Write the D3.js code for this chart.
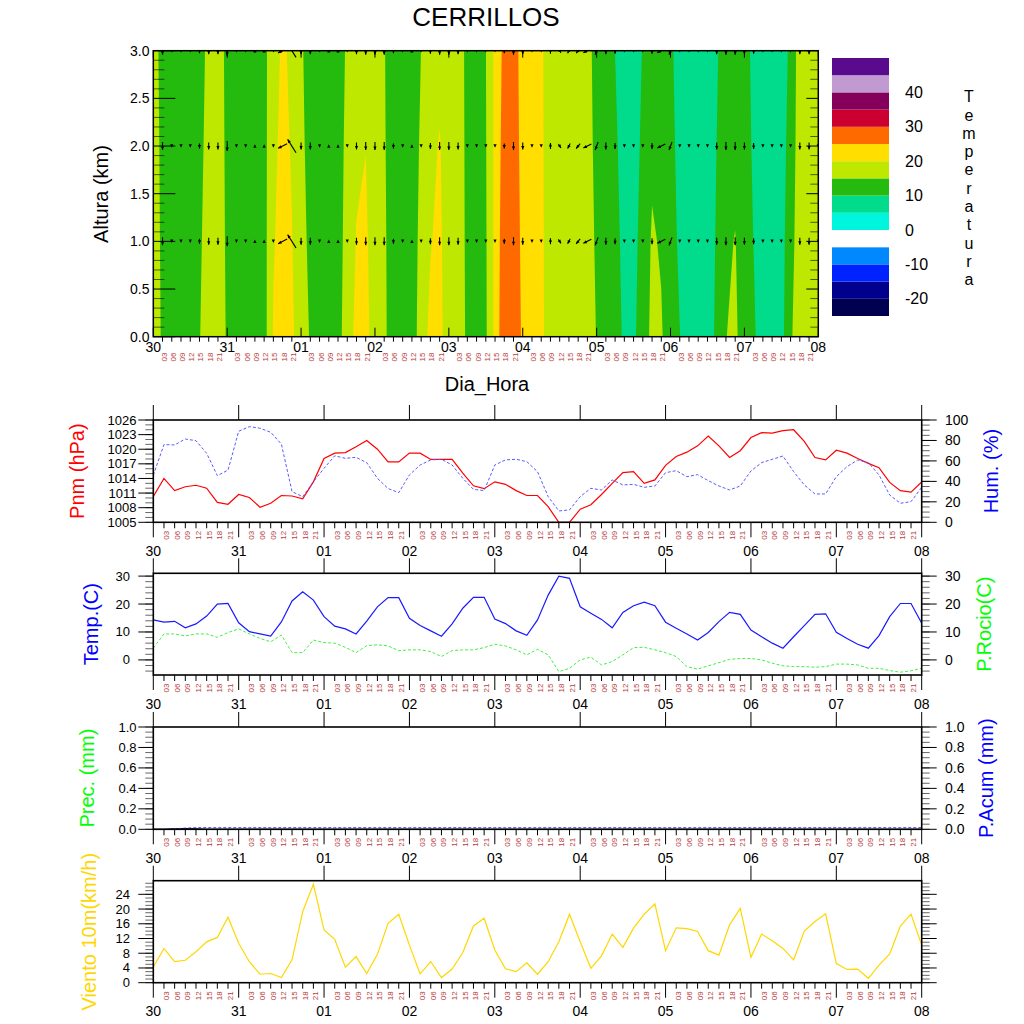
<!DOCTYPE html>
<html lang="es">
<head>
<meta charset="UTF-8">
<title>CERRILLOS - meteograma</title>
<script src="https://d3js.org/d3.v7.min.js"></script>
<style>
  body { margin: 0; background: #fff; }
  svg { display: block; font-family: "Liberation Sans", Arial, Helvetica, sans-serif; }
</style>
</head>
<body>
<script>
// ---------------- data ----------------
const days = ["30", "31", "01", "02", "03", "04", "05", "06", "07", "08"];
const hourLabels = ["03", "06", "09", "12", "15", "18", "21"];
const hoursAll = d3.range(0, 217, 3);   // 3-hourly steps, 30 00h .. 08 00h

// temperature cross-section (C), one row per height
const heightsKm = [0, 1, 2, 3];
const temp0km = [19, 14, 12.5, 12.5, 12.5, 14.7, 18.5, 17.5, 14.5, 12.5,
  12.5, 12.5, 12.9, 20.5, 22.5, 20.8, 17.5, 14.6, 12.5, 12.5,
  13.3, 17.5, 21.4, 22, 16.9, 16, 12.3, 12.5, 12.4, 17.4,
  21.3, 21.5, 17, 17.5, 14.2, 12.5, 14.3, 21.3, 29.3, 28,
  24.3, 22.5, 21, 17.7, 17.5, 17.5, 17.5, 17.5, 14.8, 12.5,
  12.5, 9, 9.1, 12.5, 16.2, 15.5, 12.2, 10.1, 7.5, 7.5,
  7.5, 11, 14.9, 16, 12.3, 10.7, 7.5, 7.5, 8.2, 14.5,
  17.1, 17.5, 17.5];
const temp1km = [18.4, 13.7, 12.5, 12.5, 12.5, 14.0, 17.9, 17.5, 14.2, 12.5,
  12.5, 12.5, 13.2, 19.6, 21.9, 20.2, 17.0, 13.7, 12.5, 12.5,
  13.0, 16.9, 20.3, 21, 17, 15.8, 12.3, 12.5, 12.4, 16.6,
  19.7, 21.2, 16.5, 17.5, 14.0, 12.5, 14.5, 21.3, 28.4, 27.8,
  23.8, 22.5, 21, 17.4, 17.5, 17.5, 17.5, 17.3, 14.2, 12.5,
  11.6, 8.5, 8.6, 11.8, 15.6, 14.5, 11.8, 9.2, 7.5, 7.5,
  7.5, 10.5, 14.1, 15.2, 12.3, 9.9, 7.5, 7.5, 8.0, 13.4,
  17.3, 17.5, 17.5];
const temp2km = [17.8, 13.5, 12.5, 12.5, 12.5, 13.3, 17.2, 17.6, 13.9, 12.5,
  12.5, 12.5, 13.4, 18.8, 21.4, 19.6, 16.5, 12.7, 12.5, 12.5,
  12.8, 16.4, 19.0, 19.9, 17.3, 15.5, 12.3, 12.5, 12.4, 15.8,
  17.8, 20.55, 16.0, 17.6, 13.8, 12.5, 14.7, 21.2, 27.4, 27.7,
  23.2, 22.5, 21, 17.0, 17.5, 17.5, 17.5, 17.1, 13.5, 12.5,
  10.8, 8.0, 8.0, 11.0, 14.0, 13.5, 11.5, 8.4, 7.5, 7.5,
  7.5, 10.05, 13.3, 13.5, 12.4, 9.2, 7.5, 7.5, 7.7, 12.2,
  17.5, 17.5, 17.5];
const temp3km = [17.2, 13.2, 12.5, 12.5, 12.5, 12.6, 16.6, 17.6, 13.6, 12.5,
  12.5, 12.5, 13.7, 17.9, 20.8, 19.0, 16, 11.8, 12.5, 12.5,
  12.5, 15.8, 17.5, 17.5, 17.5, 15.3, 12.3, 12.5, 12.45, 15.05,
  17.5, 17.5, 17.5, 17.6, 13.6, 12.5, 14.9, 21.2, 26.5, 27.5,
  22.7, 22.5, 21, 16.7, 17.5, 17.5, 17.5, 16.9, 12.9, 12.5,
  9.95, 7.5, 7.5, 10.3, 12.5, 12.5, 11.1, 7.5, 7.5, 7.5,
  7.5, 9.5, 12.5, 12.5, 12.4, 8.4, 7.5, 7.5, 7.5, 11.1,
  17.7, 17.5, 17.5];

const tempLevels = [-20, -15, -10, -5, 0, 5, 10, 15, 20, 25, 30, 35, 40, 45];
const tempColors = ["#000050", "#00008c", "#0022ff", "#0088ff", "#ffffff", "#00f5de",
  "#00dc8c", "#24ba0e", "#bee800", "#ffde00", "#ff6a00", "#cc0030", "#84005a",
  "#c09ad0", "#5a0a8c"];

// wind vectors in the cross-section (same at each drawn level)
const windLevelsKm = [1, 2, 3];
const windU = [0, 0, 0, 0, 0, 0, 0, 0, 0, 0,
  0, 0, 0, 0, -4.5, -4.2, 0, 0, 0, 0,
  0, 0, 0, 0, 0, 0, 0, 0, 0, 0,
  0, 0, 0, 0, 0, 0, 0, 0, 0, 0,
  0, 0, 0, 0, 1.3, -1.3, -2, -4, -1.5, 0,
  0, 0, 0, 0, 0, -4, -1.5, 0, 0, 0,
  0, 0, 0, 0, 0, 0, 0, 0, 0, 0,
  0, 0, 0];
const windV = [0, -4, -0.6, -0.8, -0.8, -2.5, -3.5, -3.5, -5, -1,
  -1, 1, 1, -0.6, -2.3, 6.7, -3.5, -3.5, -0.8, 1,
  1, -0.8, -3.5, -4, -4, -4, -2.5, -0.8, 1, -0.8,
  -3, -4, -4, -3.5, -1.2, -1.2, -1.2, -1.2, -2.5, -4,
  -3.5, -0.8, -0.8, 3, -2, -2.5, -2.5, -2, -4, -3.5,
  -3, -0.8, -0.8, -0.8, -3, -2, -4, -1.2, -1.2, -1.2,
  -1.2, -3.5, -4, -4, -3.5, -3, -1.2, -1.2, -0.8, -0.8,
  -3.5, -3.5, -0.8];

// surface series
const pnm = [1010.3, 1014.0, 1011.5, 1012.3, 1012.6, 1012.0, 1009.1, 1008.7, 1010.7, 1010.1,
  1008.1, 1008.9, 1010.5, 1010.4, 1009.8, 1013.3, 1018.1, 1019.2, 1019.3, 1020.5,
  1021.8, 1020.0, 1017.4, 1017.4, 1019.2, 1019.2, 1017.9, 1017.9, 1017.9, 1015.1,
  1012.5, 1011.9, 1013.3, 1012.8, 1011.5, 1010.5, 1010.5, 1008.2, 1005.0, 1005.0,
  1007.7, 1008.6, 1010.7, 1013.0, 1015.2, 1015.4, 1013.0, 1013.7, 1016.7, 1018.5,
  1019.4, 1020.7, 1022.7, 1020.7, 1018.3, 1019.7, 1022.4, 1023.4, 1023.3, 1023.8,
  1024.0, 1021.6, 1018.3, 1017.8, 1019.8, 1019.2, 1018.1, 1017.1, 1016.2, 1013.2,
  1011.5, 1011.2, 1013.3];
const hum = [46, 76, 75.6, 81.4, 79.8, 67.4, 45.6, 51, 89, 93.5,
  92, 88, 76.5, 30, 25, 39.7, 52.8, 65, 62.5, 63.5,
  58.3, 43, 33, 29, 46.3, 56, 61, 61.6, 56, 43,
  32.2, 31, 56, 61, 61.6, 59.3, 49.5, 25.1, 11.1, 12.1,
  25.1, 33.2, 31.6, 41.4, 36.5, 37.1, 34.2, 35.5, 48.5, 50.5,
  44.6, 46.6, 40.7, 35.5, 31.6, 35.5, 50.2, 58.3, 61.6, 64.8,
  49.5, 36.5, 27.7, 27.7, 44.6, 54.4, 60.9, 58.3, 46.3, 26.7,
  18.6, 20.2, 34.2];
const tempSfc = [14.3, 13.5, 13.8, 11.5, 12.9, 15.7, 20.0, 20.2, 13.3, 10.1,
  9.3, 8.5, 13.6, 21.1, 24.4, 21.4, 15.5, 12.1, 11.1, 9.3,
  13.9, 19.0, 22.3, 22.3, 14.9, 12.3, 10.4, 8.5, 12.9, 18.5,
  22.4, 22.4, 14.6, 13.0, 10.4, 8.8, 14.3, 23.2, 30.0, 29.2,
  19.0, 16.7, 14.5, 11.5, 17.0, 19.4, 20.7, 19.4, 13.5, 11.3,
  9.3, 7.1, 9.8, 13.7, 17.0, 16.3, 10.7, 8.3, 6.0, 4.2,
  8.3, 12.3, 16.3, 16.5, 9.9, 7.7, 5.6, 4.2, 8.7, 15.5,
  20.2, 20.2, 13.1];
const dewPoint = [4.2, 9.3, 9.3, 8.6, 9.3, 9.3, 8.1, 9.8, 11.1, 9.3,
  7.7, 6.5, 8.9, 2.6, 2.6, 7.1, 6.2, 6.0, 4.5, 2.6,
  5.1, 5.4, 5.0, 3.3, 3.6, 3.6, 3.0, 1.2, 3.3, 3.6,
  3.6, 4.4, 5.6, 5.0, 3.6, 1.8, 3.8, 1.8, -4.2, -3.0,
  0.0, 1.0, -1.8, -0.6, 1.8, 4.4, 4.5, 3.6, 2.6, 1.2,
  -2.4, -3.3, -2.1, -1.0, 0.2, 0.5, 0.5, 0.0, -1.2, -2.1,
  -2.4, -2.4, -2.6, -2.4, -1.5, -1.5, -1.8, -3.0, -3.0, -3.8,
  -4.4, -3.9, -3.0];
const prec = [0, 0, 0.005, 0.007, 0.004, 0, 0, 0, 0, 0,
  0, 0, 0, 0, 0, 0, 0, 0, 0, 0,
  0, 0, 0, 0, 0, 0, 0, 0, 0, 0,
  0, 0, 0, 0, 0, 0, 0, 0, 0, 0,
  0, 0, 0, 0, 0, 0, 0, 0, 0, 0,
  0, 0, 0, 0, 0, 0, 0, 0, 0, 0,
  0, 0, 0, 0, 0, 0, 0, 0, 0, 0,
  0, 0, 0];
const precAcum = [0, 0, 0.005, 0.012, 0.016, 0.016, 0.016, 0.016, 0.016, 0.016,
  0.016, 0.016, 0.016, 0.016, 0.016, 0.016, 0.016, 0.016, 0.016, 0.016,
  0.016, 0.016, 0.016, 0.016, 0.016, 0.016, 0.016, 0.016, 0.016, 0.016,
  0.016, 0.016, 0.016, 0.016, 0.016, 0.016, 0.016, 0.016, 0.016, 0.016,
  0.016, 0.016, 0.016, 0.016, 0.016, 0.016, 0.016, 0.016, 0.016, 0.016,
  0.016, 0.016, 0.016, 0.016, 0.016, 0.016, 0.016, 0.016, 0.016, 0.016,
  0.016, 0.016, 0.016, 0.016, 0.016, 0.016, 0.016, 0.016, 0.016, 0.016,
  0.016, 0.016, 0.016];
const wind10m = [4.3, 9.3, 5.7, 6.1, 8.4, 11.1, 12.3, 17.8, 10.7, 5.7,
  2.3, 2.5, 1.4, 6.2, 19.3, 26.7, 14.3, 11.8, 4.2, 7.1,
  2.5, 7.7, 16.1, 18.6, 10.2, 2.4, 5.7, 1.4, 3.7, 8.2,
  15.4, 17.5, 8.9, 3.8, 3.0, 5.4, 2.3, 5.7, 11.1, 18.6,
  11.1, 3.9, 7.3, 13.2, 9.6, 14.8, 18.6, 21.4, 8.7, 14.9,
  14.7, 13.9, 8.7, 7.5, 15.7, 20.2, 6.9, 13.2, 11.4, 9.3,
  6.2, 14.0, 16.6, 18.7, 5.2, 3.6, 3.7, 1.2, 4.8, 7.8,
  15.4, 18.6, 10.2];

// ---------------- drawing ----------------
const hourColor = "#b83c3c";
const svg = d3.select("body").append("svg")
    .attr("width", 1024)
    .attr("height", 1024);

function tick(g, x1, y1, x2, y2, minor) {
    g.append("line")
        .attr("x1", x1).attr("y1", y1).attr("x2", x2).attr("y2", y2)
        .attr("stroke", "#000")
        .attr("stroke-opacity", minor ? 0.6 : 1)
        .attr("stroke-width", 1);
}

function vText(g, x, y, txt, size, color) {
    return g.append("text")
        .attr("transform", `translate(${x},${y}) rotate(-90)`)
        .attr("text-anchor", "middle")
        .attr("dominant-baseline", "central")
        .attr("font-size", size)
        .attr("fill", color || "#000")
        .text(txt);
}

function hText(g, x, y, txt, size, anchor, color) {
    return g.append("text")
        .attr("x", x).attr("y", y)
        .attr("text-anchor", anchor || "middle")
        .attr("dominant-baseline", "central")
        .attr("font-size", size)
        .attr("fill", color || "#000")
        .text(txt);
}

// day and hour labels under a time axis
function timeLabels(g, x, dayY, hourY, dx) {
    days.forEach((d, k) => hText(g, x(k * 24), dayY, d, 14));
    days.slice(0, -1).forEach((d, k) => {
        hourLabels.forEach((h, j) => {
            vText(g, x(k * 24 + (j + 1) * 3) + dx, hourY, h, 8, hourColor);
        });
    });
}

hText(svg, 486, 17, "CERRILLOS", 26);

// ---- top panel: temperature cross-section ----
const T = {x0: 153.3, x1: 818.3, y0: 50.7, y1: 336.7};
const xTop = d3.scaleLinear().domain([0, 216]).range([T.x0, T.x1]);
const yTop = d3.scaleLinear().domain([0, 3]).range([T.y1, T.y0]);

svg.append("clipPath").attr("id", "clip-top").append("rect")
    .attr("x", T.x0).attr("y", T.y0)
    .attr("width", T.x1 - T.x0).attr("height", T.y1 - T.y0);

const nx = hoursAll.length, ny = heightsKm.length;
const grid = [].concat(temp0km, temp1km, temp2km, temp3km);
const colToHour = d3.scaleLinear().domain([0, nx - 1]).range([hoursAll[0], hoursAll[nx - 1]]);
const rowToKm = d3.scaleLinear().domain([0, ny - 1]).range([heightsKm[0], heightsKm[ny - 1]]);
const toScreen = d3.geoTransform({
    point(x, y) {
        this.stream.point(xTop(colToHour(x - 0.5)), yTop(rowToKm(y - 0.5)));
    }
});
const bands = d3.contours().size([nx, ny])
    .thresholds([-100].concat(tempLevels))(grid);

const gTop = svg.append("g").attr("clip-path", "url(#clip-top)");
gTop.selectAll("path.band")
    .data(bands)
    .join("path")
    .attr("class", "band")
    .attr("d", d3.geoPath(toScreen))
    .attr("fill", (d, k) => tempColors[k])
    .attr("fill-rule", "evenodd");

// wind arrows
const arrows = [];
windLevelsKm.forEach(km => hoursAll.forEach((h, i) => {
    arrows.push({h: h, km: km, u: windU[i], v: windV[i]});
}));
gTop.selectAll("g.arrow")
    .data(arrows)
    .join("g")
    .attr("class", "arrow")
    .each(function(d) {
        const g = d3.select(this);
        const cx = xTop(d.h), cy = yTop(d.km);
        const dx = d.u * 2, dy = -d.v * 2;
        const len = Math.hypot(dx, dy);
        if (len === 0) return;
        const ux = dx / len, uy = dy / len;
        const head = 3.5;
        let tx = cx + dx / 2, ty = cy + dy / 2;
        if (len < head) {
            tx = cx + ux * head / 2;
            ty = cy + uy * head / 2;
        } else {
            g.append("line")
                .attr("x1", cx - dx / 2).attr("y1", cy - dy / 2)
                .attr("x2", tx).attr("y2", ty)
                .attr("stroke", "#000").attr("stroke-width", 1.1);
        }
        const bx = tx - ux * head, by = ty - uy * head;
        const px = -uy * 1.6, py = ux * 1.6;
        g.append("path")
            .attr("d", `M${tx},${ty}L${bx + px},${by + py}L${bx - px},${by - py}Z`)
            .attr("fill", "#000");
    });

svg.append("rect")
    .attr("x", T.x0).attr("y", T.y0)
    .attr("width", T.x1 - T.x0).attr("height", T.y1 - T.y0)
    .attr("fill", "none").attr("stroke", "#000").attr("stroke-width", 1.5);

const axTop = svg.append("g");
yTop.ticks(30).forEach(v => {
    const major = Math.abs(v * 2 - Math.round(v * 2)) < 1e-6;
    const y = yTop(v);
    tick(axTop, T.x0, y, T.x0 + (major ? 22 : 11), y, !major);
    tick(axTop, T.x1, y, T.x1 - (major ? 12 : 8), y, !major);
    if (major) hText(axTop, 149.5, y, d3.format(".1f")(v), 14, "end");
});
hoursAll.forEach(h => {
    const x = xTop(h);
    if (h % 24 === 0) {
        tick(axTop, x, T.y1, x, T.y1 - 9);
        tick(axTop, x, T.y0, x, T.y0 + 7);
    } else {
        tick(axTop, x, T.y1, x, T.y1 + 5);
    }
});
timeLabels(axTop, xTop, 346.7, 357, 1.5);
vText(svg, 101, 194, "Altura (km)", 20);
hText(svg, 487, 384, "Dia_Hora", 20);

// colorbar
const cb = svg.append("g");
const yCb = d3.scaleLinear().domain([0, tempColors.length]).range([316, 58]);
cb.selectAll("rect")
    .data(tempColors)
    .join("rect")
    .attr("x", 832).attr("width", 57)
    .attr("y", (c, k) => yCb(k + 1))
    .attr("height", (c, k) => yCb(k) - yCb(k + 1))
    .attr("fill", c => c);
tempLevels.forEach((lv, k) => {
    if (lv % 10 === 0) hText(cb, 905, yCb(k + 1), String(lv), 16, "start");
});
"Temperatura".split("").forEach((ch, k) => hText(cb, 969, 96.7 + k * 18.3, ch, 16));

// ---- lower panels ----
const BX0 = 153.3, BX1 = 921.7;
const xB = d3.scaleLinear().domain([0, 216]).range([BX0, BX1]);

const panelDefs = [
    {y0: 420, y1: 522.3,
     left: {domain: [1005, 1026], major: 3, minor: 1, fmt: d3.format("d"), end: 136.5},
     right: {domain: [0, 100], major: 20, minor: 5, fmt: d3.format("d")},
     leftTitle: {text: "Pnm (hPa)", color: "#ff0000", x: 77},
     rightTitle: {text: "Hum. (%)", color: "#0000ff", x: 991},
     series: [
        {data: pnm, axis: "left", color: "#ff0000", width: 1.2},
        {data: hum, axis: "right", color: "#5a5aff", width: 1, dash: "3,2"}]},
    {y0: 573.3, y1: 675,
     left: {domain: [-5.4, 31], major: 10, minor: 2, fmt: d3.format("d"), end: 130},
     right: {domain: [-5.4, 31], major: 10, minor: 2, fmt: d3.format("d")},
     leftTitle: {text: "Temp.(C)", color: "#0000ff", x: 91},
     rightTitle: {text: "P.Rocio(C)", color: "#00ff00", x: 984},
     series: [
        {data: tempSfc, axis: "left", color: "#1a1aff", width: 1.2},
        {data: dewPoint, axis: "right", color: "#44ee44", width: 1, dash: "3,2"}]},
    {y0: 727, y1: 829.3,
     left: {domain: [0, 1], major: 0.2, minor: 0.05, fmt: d3.format(".1f"), end: 136.5},
     right: {domain: [0, 1], major: 0.2, minor: 0.05, fmt: d3.format(".1f")},
     leftTitle: {text: "Prec. (mm)", color: "#00ff00", x: 87},
     rightTitle: {text: "P.Acum (mm)", color: "#0000ff", x: 986},
     series: [
        {data: prec, axis: "left", color: "#000", width: 1.2},
        {data: precAcum, axis: "right", color: "#4a4aff", width: 1, dash: "3,2"}]},
    {y0: 880.7, y1: 982.7,
     left: {domain: [0, 27.7], major: 4, minor: 1, fmt: d3.format("d"), end: 130},
     right: {domain: [0, 27.7], major: 4, minor: 1, fmt: null},
     leftTitle: {text: "Viento 10m(km/h)", color: "#ffd700", x: 89},
     rightTitle: null,
     series: [
        {data: wind10m, axis: "left", color: "#ffd700", width: 1.2}]}
];

function tickValues(domain, step) {
    const eps = step * 1e-6;
    return d3.range(Math.ceil(domain[0] / step - 1e-9) * step, domain[1] + eps, step);
}

panelDefs.forEach((p, n) => {
    const g = svg.append("g");
    const yL = d3.scaleLinear().domain(p.left.domain).range([p.y1, p.y0]);
    const yR = d3.scaleLinear().domain(p.right.domain).range([p.y1, p.y0]);
    const clipId = "clip-p" + n;
    svg.append("clipPath").attr("id", clipId).append("rect")
        .attr("x", BX0).attr("y", p.y0)
        .attr("width", BX1 - BX0).attr("height", p.y1 - p.y0);

    const gl = g.append("g").attr("clip-path", `url(#${clipId})`);
    p.series.forEach(s => {
        const y = s.axis === "left" ? yL : yR;
        gl.append("path")
            .datum(s.data)
            .attr("fill", "none")
            .attr("stroke", s.color)
            .attr("stroke-width", s.width)
            .attr("stroke-dasharray", s.dash || null)
            .attr("d", d3.line().x((d, i) => xB(hoursAll[i])).y(d => y(d)));
    });

    g.append("rect")
        .attr("x", BX0).attr("y", p.y0)
        .attr("width", BX1 - BX0).attr("height", p.y1 - p.y0)
        .attr("fill", "none").attr("stroke", "#000").attr("stroke-width", 1.6);

    // y ticks, outward
    tickValues(p.left.domain, p.left.minor).forEach(v => tick(g, BX0, yL(v), BX0 - 8, yL(v), true));
    tickValues(p.left.domain, p.left.major).forEach(v => {
        tick(g, BX0, yL(v), BX0 - 15, yL(v));
        hText(g, p.left.end, yL(v), p.left.fmt(v), 13, "end");
    });
    tickValues(p.right.domain, p.right.minor).forEach(v => tick(g, BX1, yR(v), BX1 + 8, yR(v), true));
    tickValues(p.right.domain, p.right.major).forEach(v => {
        tick(g, BX1, yR(v), BX1 + 15, yR(v));
        if (p.right.fmt) hText(g, 945, yR(v), p.right.fmt(v), 14, "start");
    });

    // x ticks
    hoursAll.forEach(h => {
        const x = xB(h);
        if (h % 24 === 0) {
            tick(g, x, p.y1, x, p.y1 + 15);
            tick(g, x, p.y0, x, p.y0 - 15);
        } else {
            tick(g, x, p.y1, x, p.y1 + 6);
        }
    });
    timeLabels(g, xB, p.y1 + 28.5, p.y1 + 13, 2.5);

    vText(g, p.leftTitle.x, (p.y0 + p.y1) / 2, p.leftTitle.text, 20, p.leftTitle.color);
    if (p.rightTitle) vText(g, p.rightTitle.x, (p.y0 + p.y1) / 2, p.rightTitle.text, 20, p.rightTitle.color);
});
</script>
</body>
</html>
